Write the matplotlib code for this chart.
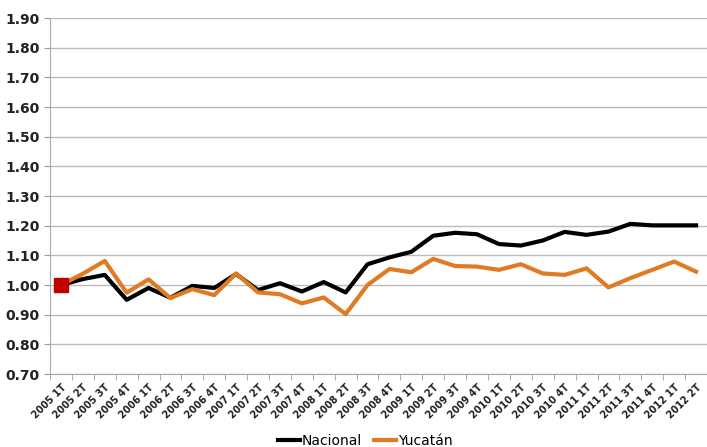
import numpy as np
import matplotlib
matplotlib.use('Agg')
from matplotlib import pyplot as plt

years = ['2005'] * 4 + ['2006'] * 4 + ['2007'] * 4 + ['2008'] * 4 + \
        ['2009'] * 4 + ['2010'] * 4 + ['2011'] * 4 + ['2012'] * 2
quarters = ['1T', '2T', '3T', '4T'] * 7 + ['1T', '2T']
labels = [y + ' ' + q for y, q in zip(years, quarters)]

nacional = [1.000, 1.020, 1.034, 0.950, 0.990, 0.957, 0.997, 0.990, 1.037, 0.983,
            1.006, 0.978, 1.010, 0.975, 1.070, 1.093, 1.112, 1.166, 1.176, 1.171,
            1.138, 1.133, 1.150, 1.179, 1.169, 1.180, 1.206, 1.201, 1.201, 1.201]
yucatan = [1.000, 1.038, 1.081, 0.974, 1.019, 0.956, 0.986, 0.966, 1.039, 0.975,
           0.969, 0.938, 0.958, 0.902, 1.000, 1.054, 1.043, 1.088, 1.064, 1.062,
           1.051, 1.070, 1.039, 1.034, 1.056, 0.992, 1.023, 1.051, 1.079, 1.045]

x = np.arange(len(labels))

fig = plt.figure(figsize=(7.07, 4.47), dpi=100)
ax = fig.add_axes([50/707, 1 - 374/447, 657/707, 356/447])

ax.plot(x, nacional, color='black', lw=3, label='Nacional', zorder=3)
ax.plot(x, yucatan, color='#E07B24', lw=3, label='Yucatán', zorder=3)
ax.plot([0], [1.0], marker='s', ms=10, color='#C00000', ls='none', zorder=4)

ax.set_ylim(0.70, 1.90)
ax.set_yticks(np.arange(0.70, 1.91, 0.10))
ax.set_yticklabels(['%.2f' % v for v in np.arange(0.70, 1.91, 0.10)],
                   fontsize=10, fontweight='bold', color='#222222')
ax.yaxis.grid(True, color='#BBBBBB', lw=1)
ax.set_axisbelow(True)

ax.set_xlim(-0.5, 29.1)
ax.set_xticks(x)
ax.set_xticklabels(labels, rotation=45, ha='right', rotation_mode='anchor',
                   fontsize=7, fontweight='bold', color='#222222')
ax.set_xticks(np.arange(-0.5, 30, 1), minor=True)
ax.tick_params(axis='x', which='major', length=0, pad=6)
ax.tick_params(axis='x', which='minor', length=4, color='#999999')
ax.tick_params(axis='y', length=4, color='#999999')

for s in ['top', 'right']:
    ax.spines[s].set_visible(False)
for s in ['left', 'bottom']:
    ax.spines[s].set_color('#AAAAAA')

fig.legend(loc='center', bbox_to_anchor=(365/707, 1 - 441/447), ncol=2,
           frameon=False, fontsize=10, handlelength=1.6, handletextpad=0.1,
           columnspacing=0.9)

fig.savefig('out.png', dpi=100)
